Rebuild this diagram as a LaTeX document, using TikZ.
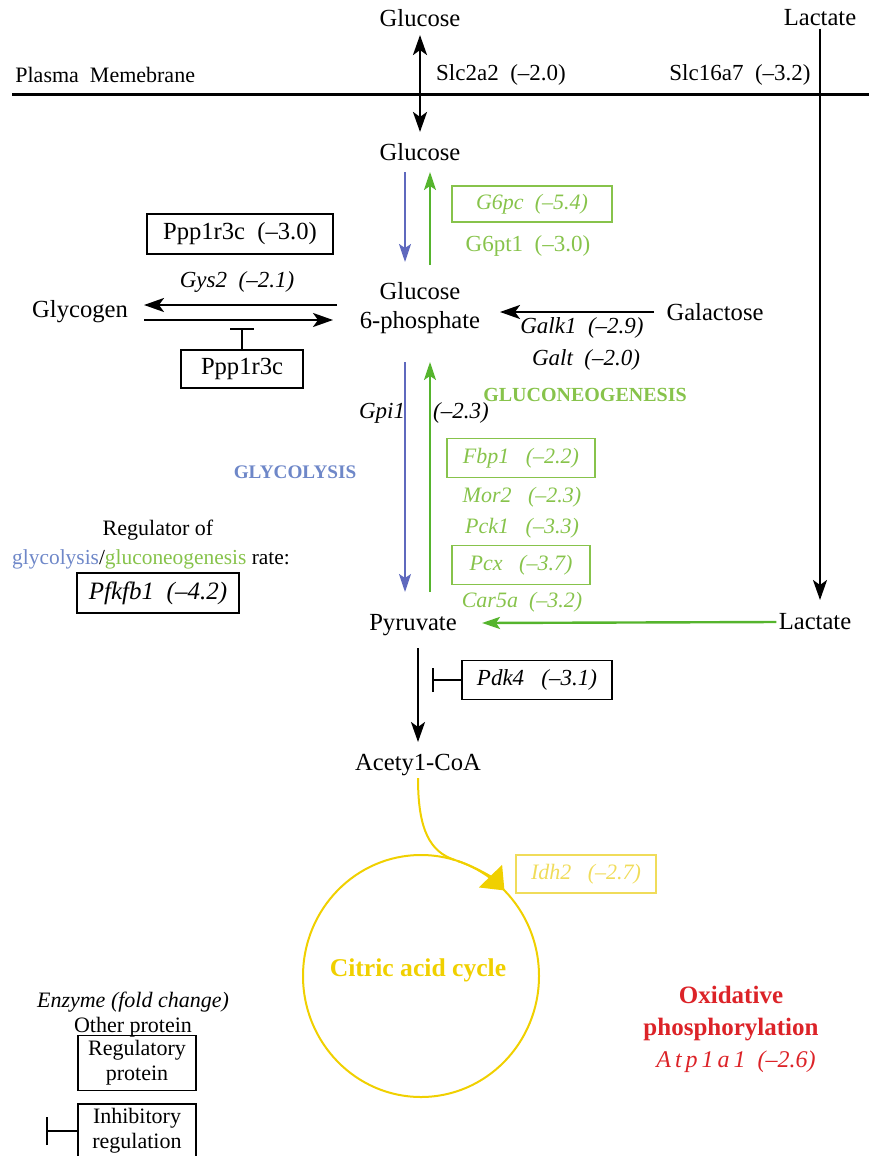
\documentclass[tikz,border=0pt]{standalone}
\usepackage{fontspec}
\setmainfont{Liberation Serif}
\usetikzlibrary{arrows.meta,shapes.geometric}
\definecolor{gly}{RGB}{95,105,190}
\definecolor{glyt}{RGB}{110,135,200}
\definecolor{gng}{RGB}{85,180,45}
\definecolor{gngt}{RGB}{135,195,75}
\definecolor{tca}{RGB}{240,208,0}
\definecolor{tcat}{RGB}{240,220,90}
\definecolor{oxr}{RGB}{220,35,40}
\begin{document}
\begin{tikzpicture}[x=0.5pt,y=-0.5pt,
  font=\fontsize{12.3}{14.5}\selectfont,
  lbl/.style={inner sep=1pt},
  sm/.style={inner sep=1pt,font=\fontsize{11}{13}\selectfont},
  itl/.style={inner sep=1pt,font=\fontsize{11.5}{13}\selectfont\itshape},
  box/.style={draw,line width=0.7pt,inner sep=2pt},
  gbox/.style={draw=gngt,line width=0.7pt,inner sep=2pt,text=gngt,font=\fontsize{11}{13}\selectfont\itshape},
  arr/.style={line width=1.2pt,-{Stealth[length=10pt,width=7pt,inset=2.5pt]}},
  dbl/.style={line width=1.2pt,{Stealth[length=10pt,width=7pt,inset=2.5pt]}-{Stealth[length=10pt,width=7pt,inset=2.5pt]}},
  barr/.style={line width=1pt,gly,-{Stealth[length=9pt,width=6pt,inset=2pt]}},
  garr/.style={line width=1pt,gng,-{Stealth[length=9pt,width=6pt,inset=2pt]}},
  inh/.style={line width=0.7pt,-{Bar[width=12pt,line width=0.8pt]}}
]
\useasboundingbox (0,0) rectangle (869,1156);

% membrane
\coordinate (mL) at (12,95);
\coordinate (mR) at (869,95);
\draw[line width=1.5pt] (mL) -- (mR);
\node[sm,anchor=west] (pm) at (13,75) {Plasma\ \ Memebrane};
\node[sm,font=\fontsize{11.5}{13}\selectfont] (slc2) at (501,75) {Slc2a2\ \ (--2.0)};
\node[sm,font=\fontsize{11.5}{13}\selectfont] (slc16) at (740,75) {Slc16a7\ \ (--3.2)};

% glucose transport
\node[lbl] (glcOut) at (420,18) {Glucose};
\node[lbl] (glcIn) at (420,152) {Glucose};
\draw[dbl] ([yshift=-3pt]glcOut.south) -- ([yshift=4.5pt]glcIn.north);

% lactate
\node[lbl] (lacOut) at (820,18) {Lactate};
\node[lbl] (lacIn) at (815,622) {Lactate};
\coordinate (lacEnd) at (820,600);
\draw[arr] (lacOut.south) -- (lacEnd);

% glucose <-> G6P
\node[lbl,align=center] (g6p) at (420,308) {Glucose\\6-phosphate};
\coordinate (b1s) at (405,172); \coordinate (b1e) at (405,262);
\coordinate (g1s) at (430,265); \coordinate (g1e) at (430,172);
\draw[barr] (b1s) -- (b1e);
\draw[garr] (g1s) -- (g1e);
\node[gbox,minimum width=80pt,minimum height=18pt] (g6pc) at (532,204) {G6pc\ \ (--5.4)};
\node[sm,text=gngt,font=\fontsize{11.5}{13}\selectfont] (g6pt) at (528,246) {G6pt1\ \ (--3.0)};

% glycogen
\node[lbl] (glyc) at (80,312) {Glycogen};
\node[box,minimum width=93pt,minimum height=20pt] (ppp1) at (240,234) {Ppp1r3c\ \ (--3.0)};
\node[itl] (gys) at (237,282) {Gys2\ \ (--2.1)};
\coordinate (gl1s) at (337,305); \coordinate (gl1e) at (144,305);
\coordinate (gl2s) at (144,320); \coordinate (gl2e) at (333,320);
\draw[arr] (gl1s) -- (gl1e);
\draw[arr] (gl2s) -- (gl2e);
\node[box,minimum width=61pt,minimum height=19pt] (ppp2) at (242,369) {Ppp1r3c};
\coordinate (pppT) at (242,328);
\draw[inh] (ppp2.north) -- (pppT);

% galactose
\node[lbl] (gal) at (715,312) {Galactose};
\coordinate (galE) at (500,312);
\draw[arr] ([xshift=-5pt]gal.west) -- (galE);
\node[itl] (galk) at (582,328) {Galk1\ \ (--2.9)};
\node[itl] (galt) at (586,360) {Galt\ \ (--2.0)};

% G6P <-> pyruvate
\coordinate (b2s) at (405,362); \coordinate (b2e) at (405,592);
\coordinate (g2s) at (430,592); \coordinate (g2e) at (430,362);
\draw[barr] (b2s) -- (b2e);
\draw[garr] (g2s) -- (g2e);
\node[lbl,text=gngt,font=\fontsize{10}{12}\selectfont\bfseries] (gngl) at (585,395) {GLUCONEOGENESIS};
\node[lbl,text=glyt,font=\fontsize{9.6}{12}\selectfont\bfseries] (glyl) at (295,472) {GLYCOLYSIS};
\node[itl] (gpi) at (382,413) {Gpi1};
\node[itl] (gpiv) at (461,413) {(--2.3)};
\node[gbox,minimum width=74pt,minimum height=19.5pt] (fbp) at (521,458) {Fbp1\ \ \ (--2.2)};
\node[sm,text=gngt,font=\fontsize{11}{13}\selectfont\itshape] (mor) at (522,497) {Mor2\ \ \ (--2.3)};
\node[sm,text=gngt,font=\fontsize{11}{13}\selectfont\itshape] (pck) at (522,528) {Pck1\ \ \ (--3.3)};
\node[gbox,minimum width=69pt,minimum height=19.5pt] (pcx) at (521,565) {Pcx\ \ \ (--3.7)};
\node[sm,text=gngt,font=\fontsize{11}{13}\selectfont\itshape] (car) at (522,602) {Car5a\ \ (--3.2)};

% pyruvate
\node[lbl] (pyr) at (413,625) {Pyruvate};
\coordinate (pyrE) at (482,623);
\draw[garr,line width=1.2pt] (lacIn.west) -- (pyrE);

% regulator
\node[lbl,font=\fontsize{11}{13}\selectfont] (reg1) at (158,530) {Regulator of};
\node[lbl,font=\fontsize{10.7}{13}\selectfont] (reg2) at (151,559) {\textcolor{glyt}{glycolysis}/\textcolor{gngt}{gluconeogenesis} rate:};
\node[box,minimum width=81pt,minimum height=20pt,font=\fontsize{12.5}{14}\selectfont\itshape] (pfk) at (158,593) {Pfkfb1\ \ (--4.2)};

% pyruvate -> acetyl-CoA
\node[lbl] (acoa) at (418,765) {Acety1-CoA};
\coordinate (pyrS) at (418,648); \coordinate (acE) at (418,742);
\draw[arr] (pyrS) -- (acE);
\node[box,minimum width=75pt,minimum height=19.5pt,font=\fontsize{11.5}{13}\selectfont\itshape] (pdk) at (537,680) {Pdk4\ \ \ (--3.1)};
\coordinate (pdkT) at (432,680);
\draw[inh] (pdk.west) -- (pdkT);

% citric acid cycle
\node[ellipse,draw=tca,line width=1pt,minimum width=118pt,minimum height=121pt,inner sep=0pt] (cyc) at (421,976) {};
\node[lbl,text=tca,font=\fontsize{12.8}{14}\selectfont\bfseries] (cycl) at (418,970) {Citric acid cycle};
\coordinate (join) at (455,860);
\draw[tca,line width=1pt] (acoa.south) .. controls (418,830) and (430,852) .. (join);
\draw[tca,line width=1pt,-{Triangle[length=10pt,width=16pt]}]
  ([shift={(72:59pt and 60.5pt)}]cyc.center) arc[start angle=72,end angle=45,x radius=59pt,y radius=60.5pt];
\node[draw=tcat,line width=0.7pt,inner sep=2pt,text=tcat,font=\fontsize{11}{13}\selectfont\itshape,
      minimum width=70pt,minimum height=19pt] (idh) at (586,874) {Idh2\ \ \ (--2.7)};

% oxidative phosphorylation
\node[lbl,align=center,text=oxr,font=\fontsize{12.5}{16}\selectfont\bfseries] (ox) at (731,1014) {Oxidative\\phosphorylation};
\node[lbl,text=oxr,font=\fontsize{12}{14}\selectfont\itshape] (atp) at (736,1062) {A\,t\,p\,1\,a\,1\ \ (--2.6)};

% legend
\node[sm,font=\fontsize{11}{13}\selectfont\itshape] (leg1) at (133,1002) {Enzyme (fold change)};
\node[sm] (leg2) at (133,1027) {Other protein};
\node[box,align=center,minimum width=59pt,minimum height=27.5pt,font=\fontsize{11}{12.5}\selectfont] (leg3) at (137,1063) {Regulatory\\protein};
\node[box,align=center,minimum width=59pt,minimum height=27pt,font=\fontsize{11}{12.5}\selectfont] (leg4) at (137,1131) {Inhibitory\\regulation};
\coordinate (legT) at (46,1131);
\draw[inh,-{Bar[width=14pt,line width=0.8pt]}] (leg4.west) -- (legT);
\end{tikzpicture}
\end{document}
